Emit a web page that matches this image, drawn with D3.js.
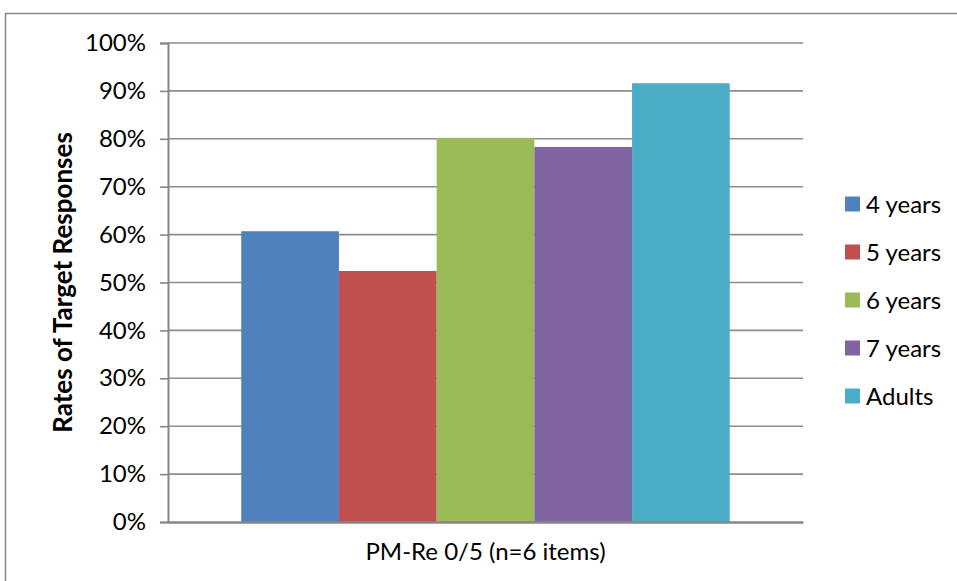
<!DOCTYPE html>
<html>
<head>
<meta charset="utf-8">
<script src="https://cdn.jsdelivr.net/npm/d3@7"></script>
<style>
  html, body { margin: 0; padding: 0; background: #fff; }
  svg { display: block; }
  text { font-family: Lato, "Open Sans", "Liberation Sans", sans-serif; fill: #000; }
</style>
</head>
<body>
<svg id="chart" width="957" height="581"></svg>
<script>
// Chart data
const category = "PM-Re 0/5 (n=6 items)";
const groups = ["4 years", "5 years", "6 years", "7 years", "Adults"];
const rates = [0.607, 0.524, 0.802, 0.783, 0.916];
const colors = ["#4f81bd", "#c0504d", "#9bbb59", "#8064a2", "#4bacc6"];
const yTicks = [0, 0.1, 0.2, 0.3, 0.4, 0.5, 0.6, 0.7, 0.8, 0.9, 1.0];
const yTitle = "Rates of Target Responses";

const svg = d3.select("#chart");
const fontSize = 24;

// outer frame
svg.append("rect")
  .attr("x", 5.5).attr("y", 13.5)
  .attr("width", 970).attr("height", 600)
  .attr("fill", "#fff").attr("stroke", "#888").attr("stroke-width", 1.5);

const plot = { left: 168, right: 803, top: 43, bottom: 522 };

const y = d3.scaleLinear().domain([0, 1]).range([plot.bottom, plot.top]);
const x0 = d3.scaleBand().domain([category]).range([plot.left, plot.right]).paddingInner(0).paddingOuter(0);
// gap equal to 1.5 bar widths split across both sides
const x1 = d3.scaleBand().domain(groups)
  .range([x0(category), x0(category) + x0.bandwidth()])
  .paddingInner(0).paddingOuter(0.75);

// gridlines
svg.append("g")
  .selectAll("line")
  .data(yTicks.filter(d => d > 0))
  .join("line")
  .attr("x1", plot.left).attr("x2", plot.right)
  .attr("y1", d => y(d)).attr("y2", d => y(d))
  .attr("stroke", "#8c8c8c").attr("stroke-width", 1.6);

// bars
svg.append("g")
  .selectAll("rect")
  .data(groups.map((g, i) => ({ g, v: rates[i], c: colors[i] })))
  .join("rect")
  .attr("x", d => x1(d.g))
  .attr("width", x1.bandwidth())
  .attr("y", d => y(d.v))
  .attr("height", d => y(0) - y(d.v))
  .attr("fill", d => d.c);

// y axis
const yAxis = d3.axisLeft(y)
  .tickValues(yTicks)
  .tickFormat(d3.format(".0%"))
  .tickSize(8)
  .tickPadding(14);
const gy = svg.append("g")
  .attr("transform", `translate(${plot.left},0)`)
  .call(yAxis);
gy.select(".domain").attr("stroke", "#868686").attr("stroke-width", 2);
gy.selectAll(".tick line").attr("stroke", "#868686").attr("stroke-width", 1.6);
gy.selectAll(".tick text")
  .attr("font-size", fontSize)
  .attr("font-family", "Lato, 'Open Sans', sans-serif")
  .attr("fill", "#000");

// x axis baseline
const xAxis = d3.axisBottom(x0).tickSize(0).tickPadding(21);
const gx = svg.append("g")
  .attr("transform", `translate(0,${plot.bottom})`)
  .call(xAxis);
gx.select(".domain").attr("stroke", "#868686").attr("stroke-width", 2.4);
gx.selectAll(".tick text")
  .attr("font-size", fontSize)
  .attr("font-family", "Lato, 'Open Sans', sans-serif")
  .attr("fill", "#000");

// y title
svg.append("text")
  .attr("transform", `translate(72,${(plot.top + plot.bottom) / 2}) rotate(-90)`)
  .attr("text-anchor", "middle")
  .attr("font-size", 26)
  .attr("font-weight", "bold")
  .text(yTitle);

// legend
const legend = svg.append("g")
  .selectAll("g")
  .data(groups)
  .join("g")
  .attr("transform", (d, i) => `translate(845,${204 + i * 48})`);
legend.append("rect")
  .attr("x", 0).attr("y", -7.5)
  .attr("width", 15).attr("height", 15)
  .attr("fill", (d, i) => colors[i]);
legend.append("text")
  .attr("x", 21).attr("y", 0)
  .attr("dy", "0.36em")
  .attr("font-size", fontSize)
  .text(d => d);
</script>
</body>
</html>
